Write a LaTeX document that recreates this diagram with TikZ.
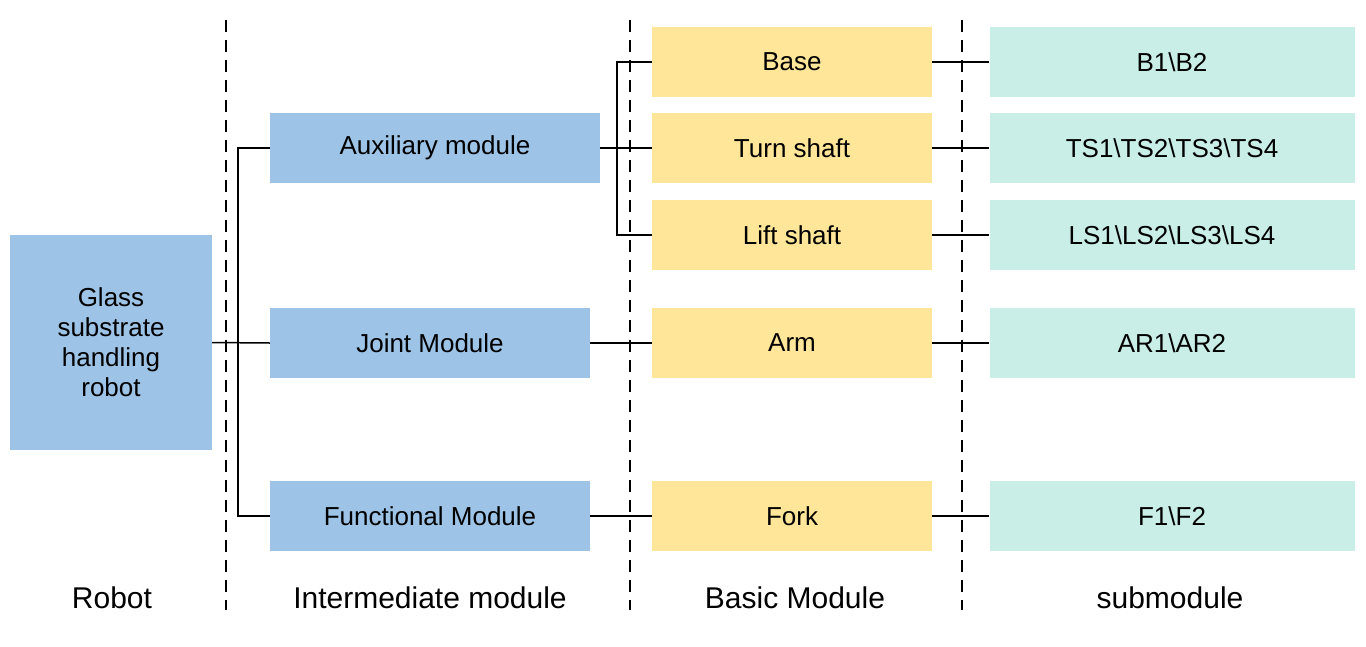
\documentclass[tikz,border=0pt]{standalone}
\usepackage{fontspec}
\setmainfont{Liberation Sans}
\begin{document}
\begin{tikzpicture}[x=1pt,y=-1pt,
 bx/.style={draw=none,minimum height=70pt,inner sep=0pt,font=\fontsize{26}{30}\selectfont,align=center},
 blue/.style={bx,fill=blueC},
 yel/.style={bx,fill=yelC,minimum width=280pt},
 teal/.style={bx,fill=tealC,minimum width=365pt},
 lbl/.style={font=\fontsize{30}{34}\selectfont},
 ln/.style={line width=1.5pt},
 dsh/.style={line width=1.3pt,dash pattern=on 12pt off 8pt}]
\definecolor{blueC}{HTML}{9DC3E6}
\definecolor{yelC}{HTML}{FFE699}
\definecolor{tealC}{HTML}{C9EEE8}
\useasboundingbox (0,0) rectangle (1366,646);
\node[blue,minimum width=202pt,minimum height=215pt] (r) at (111,342.5) {Glass\\substrate\\handling\\robot};
\node[blue,minimum width=330pt] (aux) at (435,148) {Auxiliary module};
\node[blue,minimum width=320pt] (jm) at (430,343) {Joint Module};
\node[blue,minimum width=320pt] (fm) at (430,516) {Functional Module};
\node[yel] (b) at (792,62) {Base};
\node[yel] (t) at (792,148) {Turn shaft};
\node[yel] (l) at (792,235) {Lift shaft};
\node[yel] (a) at (792,343) {Arm};
\node[yel] (f) at (792,516) {Fork};
\node[teal] (b2) at (1172,62) {B1\textbackslash B2};
\node[teal] (t2) at (1172,148) {TS1\textbackslash TS2\textbackslash TS3\textbackslash TS4};
\node[teal] (l2) at (1172,235) {LS1\textbackslash LS2\textbackslash LS3\textbackslash LS4};
\node[teal] (a2) at (1172,343) {AR1\textbackslash AR2};
\node[teal] (f2) at (1172,516) {F1\textbackslash F2};
\foreach \x in {226,630,962}{\draw[dsh] (\x,20) -- (\x,610);}
\coordinate (j1) at (238,343);
\draw[ln] (r.east) -- (jm.west);
\draw[ln] (aux.west) -| (j1) |- (fm.west);
\draw[ln] (aux.east) -- (t.west);
\coordinate (j2) at (617,148);
\draw[ln] (b.west) -| (j2) |- (l.west);
\draw[ln] (jm) -- (a); \draw[ln] (fm) -- (f);
\foreach \p/\q in {b/b2,t/t2,l/l2,a/a2,f/f2}{\draw[ln] (\p) -- (\q);}
\node[lbl] (lr) at (112,598) {Robot};
\node[lbl] (li) at (430,598) {Intermediate module};
\node[lbl] (lb) at (795,598) {Basic Module};
\node[lbl] (ls) at (1170,598) {submodule};
\end{tikzpicture}
\end{document}
